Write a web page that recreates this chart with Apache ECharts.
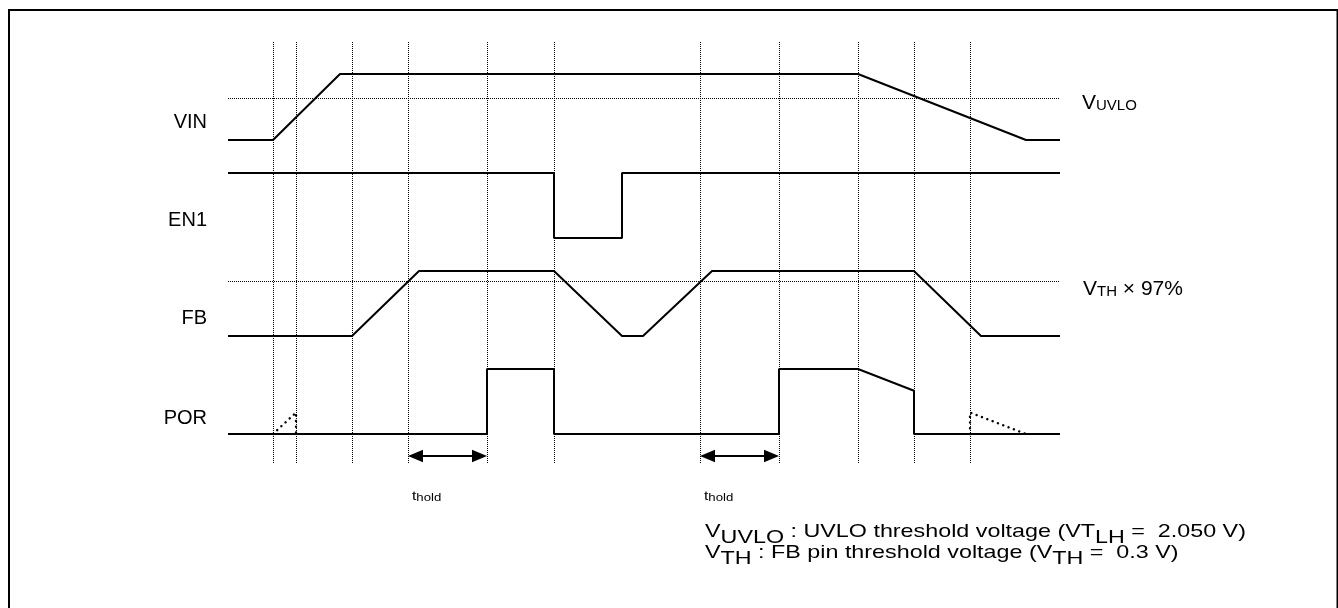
<!DOCTYPE html>
<html><head><meta charset="utf-8">
<script src="https://cdn.jsdelivr.net/npm/echarts@6/dist/echarts.min.js"></script>
<style>html,body{margin:0;padding:0;background:#fff}#c{width:1338px;height:608px}</style>
</head><body><div id="c"></div>
<script>
// ---- data (time in arbitrary units, levels 0 = low, 1 = high) ----
const tMax = 832;
const markerTimes = [45, 68, 124, 180, 259, 326, 472, 551, 630, 686, 742];
const vinT = [0, 45, 112, 630, 798, 832];
const vinV = [0, 0, 1, 1, 0, 0];
const en1T = [0, 326, 326, 394, 394, 832];
const en1V = [1, 1, 0, 0, 1, 1];
const fbT = [0, 124, 191, 326, 394, 415, 484, 686, 753, 832];
const fbV = [0, 0, 1, 1, 0, 0, 1, 1, 0, 0];
const porT = [0, 259, 259, 326, 326, 551, 551, 630, 686, 686, 832];
const porV = [0, 0, 1, 1, 0, 0, 1, 1, 0.666, 0, 0];
const porDot1T = [45, 68, 68];
const porDot1V = [0, 0.33, 0];
const porDot2T = [742, 742, 798];
const porDot2V = [0, 0.33, 0];
const uvloLevel = 0.644;
const vth97Level = 0.838;
const holdStart = [180, 472];
const holdEnd = [259, 551];
const holdLevel = -0.34;
const signalNames = ['VIN', 'EN1', 'FB', 'POR'];
const noteLine1 = '{n|V}{s|UVLO}{n| : UVLO threshold voltage (VT}{s|LH}{n| =  2.050 V)}';
const noteLine2 = '{n|V}{s|TH}{n| : FB pin threshold voltage (V}{s|TH}{n| =  0.3 V)}';
const uvloLabel = '{b|V}{s|UVLO}';
const vthLabel = '{b|V}{s|TH}{b| × 97%}';
const holdLabel = '{t|t}{h|hold}';

const zip = (a, b) => a.map((x, i) => [x, b[i]]);
const FONT = '"Liberation Sans", Arial, Helvetica, sans-serif';

const chart = echarts.init(document.getElementById('c'), null, {renderer: 'canvas'});

const gridTops = [74, 173, 271, 369, 41.5];
const gridHeights = [66, 65, 65, 97.5, 421.5];
const grids = gridTops.map((t, i) => ({left: i === 4 ? 228.5 : 228, width: tMax, top: t, height: gridHeights[i], containLabel: false}));
const xAxes = grids.map((g, i) => ({type: 'value', gridIndex: i, min: 0, max: tMax, show: false}));
const yAxes = grids.map((g, i) => ({type: 'value', gridIndex: i, min: i === 3 ? -0.5 : 0, max: 1, show: false}));

const solid = {color: '#000', width: 2};
function sig(i, T, V, extra) {
  return Object.assign({type: 'line', xAxisIndex: i, yAxisIndex: i, data: zip(T, V), symbol: 'none',
    lineStyle: solid, silent: true, animation: false}, extra || {});
}
const dotStyle = {color: '#000', width: 1, type: 'dotted'};
const dotted = {color: '#000', width: 2.4, type: [0.1, 5.6], cap: 'round'};

const series = [
  sig(0, vinT, vinV, {markLine: {silent: true, symbol: 'none', label: {show: false}, lineStyle: dotStyle, animation: false, data: [{yAxis: uvloLevel}]}}),
  sig(1, en1T, en1V),
  sig(2, fbT, fbV, {markLine: {silent: true, symbol: 'none', label: {show: false}, lineStyle: dotStyle, animation: false, data: [{yAxis: vth97Level}]}}),
  sig(3, porT, porV),
  sig(3, porDot1T, porDot1V, {lineStyle: dotted}),
  sig(3, porDot2T, porDot2V, {lineStyle: dotted}),
  {type: 'line', xAxisIndex: 4, yAxisIndex: 4, data: [], silent: true, animation: false,
   markLine: {silent: true, symbol: 'none', label: {show: false}, lineStyle: dotStyle, animation: false,
     data: markerTimes.map(t => ({xAxis: t}))}},
  {type: 'custom', xAxisIndex: 3, yAxisIndex: 3, silent: true, animation: false,
   data: holdStart.map((s, i) => [s, holdEnd[i], holdLevel]),
   renderItem: function (params, api) {
     const a = api.coord([api.value(0), api.value(2)]);
     const b = api.coord([api.value(1), api.value(2)]);
     const L = 15, H = 6.3, y = Math.round(a[1]);
     return {type: 'group', children: [
       {type: 'line', shape: {x1: a[0] + L - 2, y1: y, x2: b[0] - L + 2, y2: y}, style: {stroke: '#000', lineWidth: 2}},
       {type: 'polygon', shape: {points: [[a[0], y], [a[0] + L, y - H], [a[0] + L, y + H]]}, style: {fill: '#000'}},
       {type: 'polygon', shape: {points: [[b[0], y], [b[0] - L, y - H], [b[0] - L, y + H]]}, style: {fill: '#000'}},
       {type: 'text', x: a[0] + 4, y: y + 47, scaleX: 1.2, style: {text: holdLabel, verticalAlign: 'bottom', align: 'left',
         rich: {t: {fontSize: 13, lineHeight: 13, verticalAlign: 'bottom', fontFamily: FONT, fill: '#000'},
                h: {fontSize: 11, lineHeight: 11, verticalAlign: 'bottom', fontFamily: FONT, fill: '#000'}}}}
     ]};
   }}
];

const labelYs = [122, 220, 318, 418];
const graphic = [
  {type: 'rect', shape: {x: 9, y: 10, width: 1328.5, height: 700}, style: {fill: 'none', stroke: '#000', lineWidth: 2}, silent: true},
  ...signalNames.map((n, i) => ({type: 'text', x: 207, y: labelYs[i], silent: true,
    style: {text: n, font: '20px ' + FONT, fill: '#000', align: 'right', verticalAlign: 'middle'}})),
  {type: 'text', x: 1082, y: 103, silent: true, style: {text: uvloLabel, align: 'left', verticalAlign: 'middle',
    rich: {b: {fontSize: 21, lineHeight: 21, verticalAlign: 'bottom', fontFamily: FONT, fill: '#000'},
           s: {fontSize: 15, lineHeight: 15, verticalAlign: 'bottom', fontFamily: FONT, fill: '#000'}}}},
  {type: 'text', x: 1083, y: 289, silent: true, style: {text: vthLabel, align: 'left', verticalAlign: 'middle',
    rich: {b: {fontSize: 21, lineHeight: 21, verticalAlign: 'bottom', fontFamily: FONT, fill: '#000'},
           s: {fontSize: 15, lineHeight: 15, verticalAlign: 'bottom', fontFamily: FONT, fill: '#000'}}}},
  ...[noteLine1, noteLine2].map((t, i) => ({type: 'text', x: 705, y: i === 0 ? 522.5 : 543.5, scaleX: 1.26, silent: true,
    style: {text: t, align: 'left', verticalAlign: 'top',
      rich: {n: {fontSize: 18.5, lineHeight: 19, verticalAlign: 'top', fontFamily: FONT, fill: '#000'},
             s: {fontSize: 18.5, lineHeight: 30, fontFamily: FONT, fill: '#000'}}}}))
];

chart.setOption({animation: false, backgroundColor: '#fff', grid: grids, xAxis: xAxes, yAxis: yAxes, series: series, graphic: graphic});
</script></body></html>
